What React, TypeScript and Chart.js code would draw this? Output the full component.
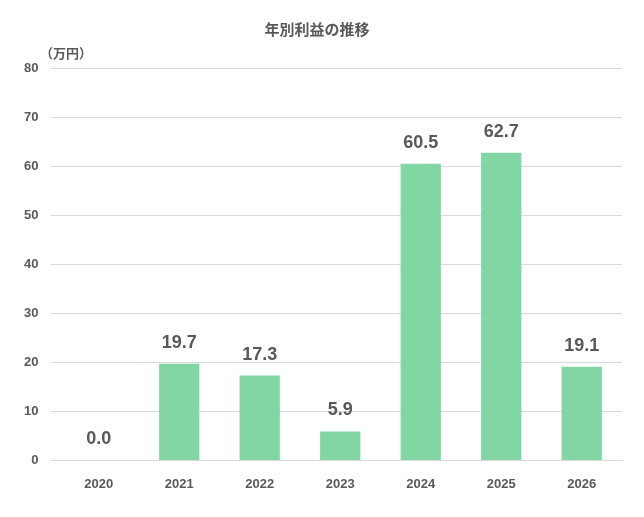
import React, { useEffect, useRef } from "react";
import { Chart, registerables } from "chart.js";
Chart.register(...registerables);

const categories = ["2020", "2021", "2022", "2023", "2024", "2025", "2026"];
const profits = [0.0, 19.7, 17.3, 5.9, 60.5, 62.7, 19.1];
const yTicks = [0, 10, 20, 30, 40, 50, 60, 70, 80];

const labelPlugin = {
  id: "labels",
  afterDatasetsDraw(chart: any) {
    const ctx = chart.ctx;
    const meta = chart.getDatasetMeta(0);
    ctx.save();
    ctx.font = "bold 18px 'Liberation Sans', Arial, sans-serif";
    ctx.fillStyle = "#595959";
    ctx.textAlign = "center";
    ctx.textBaseline = "bottom";
    meta.data.forEach((bar: any, i: number) => {
      ctx.fillText(profits[i].toFixed(1), bar.x, bar.y - 12);
    });
    ctx.font = "bold 13px 'Noto Sans CJK JP', sans-serif";
    ctx.textAlign = "left";
    ctx.textBaseline = "middle";
    ctx.fillText("（万円）", 40, 53);
    ctx.restore();
  },
};

export default function App() {
  const ref = useRef<HTMLCanvasElement>(null);
  useEffect(() => {
    document.body.style.margin = "0";
    const chart = new Chart(ref.current!, {
      type: "bar",
      data: {
        labels: categories,
        datasets: [{ data: profits, backgroundColor: "#82d6a3", categoryPercentage: 1, barPercentage: 0.5 }],
      },
      options: {
        animation: false,
        responsive: false,
        layout: { padding: { top: 0, right: 22, left: 12, bottom: 17 } },
        plugins: {
          legend: { display: false },
          tooltip: { enabled: false },
          title: {
            display: true,
            text: "年別利益の推移",
            color: "#595959",
            font: { size: 15, weight: "bold", family: "'Noto Sans CJK JP', sans-serif" },
            padding: { top: 20, bottom: 30 },
          },
        },
        scales: {
          x: {
            grid: { display: false },
            border: { color: "#d9d9d9" },
            ticks: { color: "#595959", font: { size: 13, weight: "bold", family: "'Liberation Sans', Arial" }, padding: 8 },
          },
          y: {
            min: 0,
            max: 80,
            afterBuildTicks: (s: any) => { s.ticks = yTicks.map((v) => ({ value: v })); },
            grid: { color: "#d9d9d9" },
            border: { display: false },
            ticks: { color: "#595959", font: { size: 13, weight: "bold", family: "'Liberation Sans', Arial" }, padding: 12 },
          },
        },
      },
      plugins: [labelPlugin],
    } as any);
    return () => chart.destroy();
  }, []);
  return <canvas ref={ref} width={644} height={517} />;
}
